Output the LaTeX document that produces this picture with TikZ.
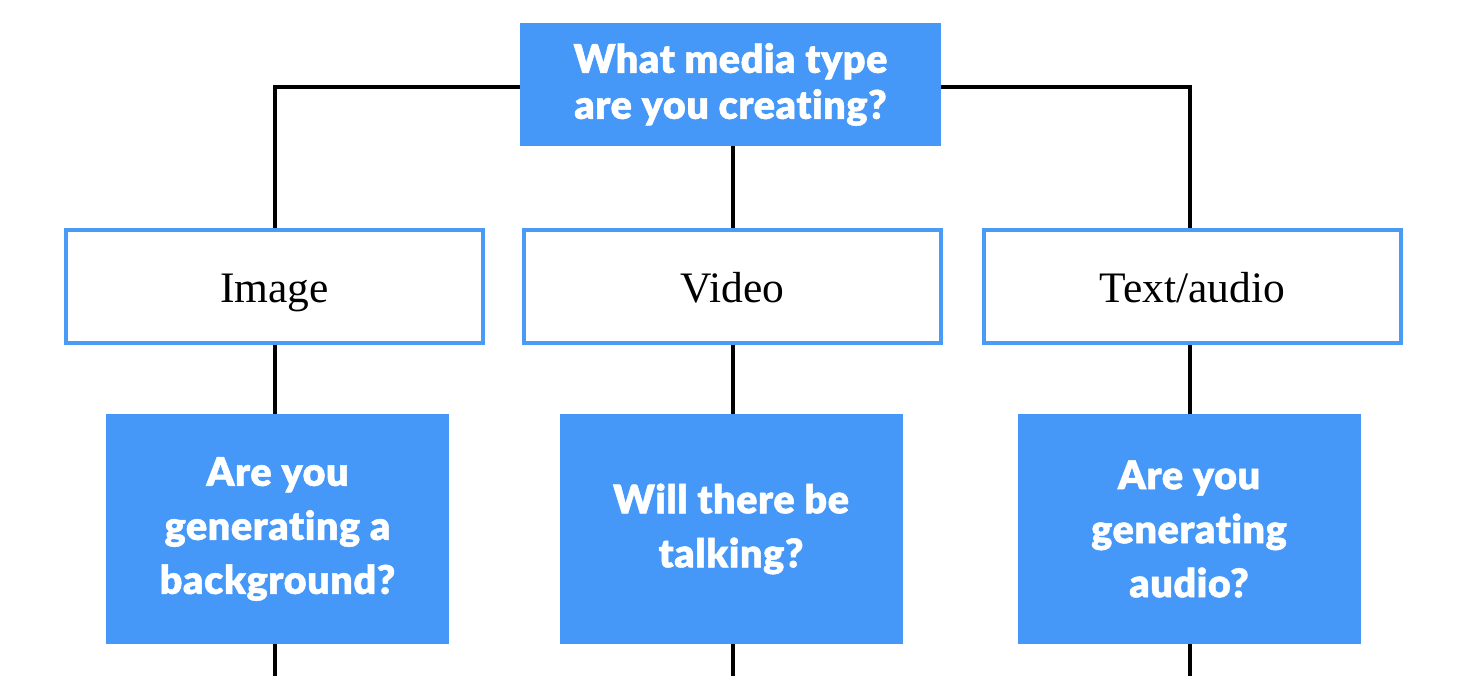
\documentclass[tikz,border=0pt]{standalone}
\usepackage{fontspec}
\setmainfont{Liberation Serif}
\setsansfont{Lato}[BoldFont={Lato Black},Ligatures=NoCommon,BoldFeatures={FakeBold=1.2,LetterSpace=1.5}]
\definecolor{qblue}{HTML}{4598F7}
\definecolor{qedge}{HTML}{4A9BF6}
\begin{document}
\begin{tikzpicture}[x=1pt,y=-1pt,
  qbox/.style={fill=qblue,draw=none,inner sep=0pt,align=center,text=white,
    font=\sffamily\bfseries\fontsize{39.5}{46}\selectfont},
  optbox/.style={fill=white,draw=qedge,line width=4pt,inner sep=0pt,
    minimum width=417pt,minimum height=113pt,text height=33pt,text depth=0pt,
    font=\fontsize{43.5}{50}\selectfont},
  lowbox/.style={qbox,minimum width=343pt,minimum height=230pt,
    font=\sffamily\bfseries\fontsize{39.5}{54}\selectfont},
  link/.style={draw=black,line width=4pt}]
\useasboundingbox (0,0) rectangle (1470,676);
\node[qbox,minimum width=421pt,minimum height=123pt] (top) at (730.5,84.5)
  {What media type\\are you creating?};
\node[optbox] (img) at (274.5,286.5) {Image};
\node[optbox] (vid) at (732.5,286.5) {Video};
\node[optbox] (txt) at (1192.5,286.5) {Text/audio};
\node[lowbox] (qimg) at (277.5,529) {Are you\\generating a\\background?};
\node[lowbox] (qvid) at (731,529) {Will there be\\talking?};
\node[lowbox] (qtxt) at (1189,529) {Are you\\generating\\audio?};
\coordinate (endimg) at (275,676);
\coordinate (endvid) at (733,676);
\coordinate (endtxt) at (1190,676);
\draw[link] ([yshift=-2.5pt]top.west) -| ([xshift=0.5pt]img.north);
\draw[link] ([yshift=-2.5pt]top.east) -| ([xshift=-2.5pt]txt.north);
\draw[link] ([xshift=2.5pt]top.south) -- ([xshift=0.5pt]vid.north);
\draw[link] ([xshift=0.5pt]img.south) -- ([xshift=-2.5pt]qimg.north);
\draw[link] ([xshift=0.5pt]vid.south) -- ([xshift=2pt]qvid.north);
\draw[link] ([xshift=-2.5pt]txt.south) -- ([xshift=1pt]qtxt.north);
\draw[link] ([xshift=-2.5pt]qimg.south) -- (endimg);
\draw[link] ([xshift=2pt]qvid.south) -- (endvid);
\draw[link] ([xshift=1pt]qtxt.south) -- (endtxt);
\end{tikzpicture}
\end{document}
